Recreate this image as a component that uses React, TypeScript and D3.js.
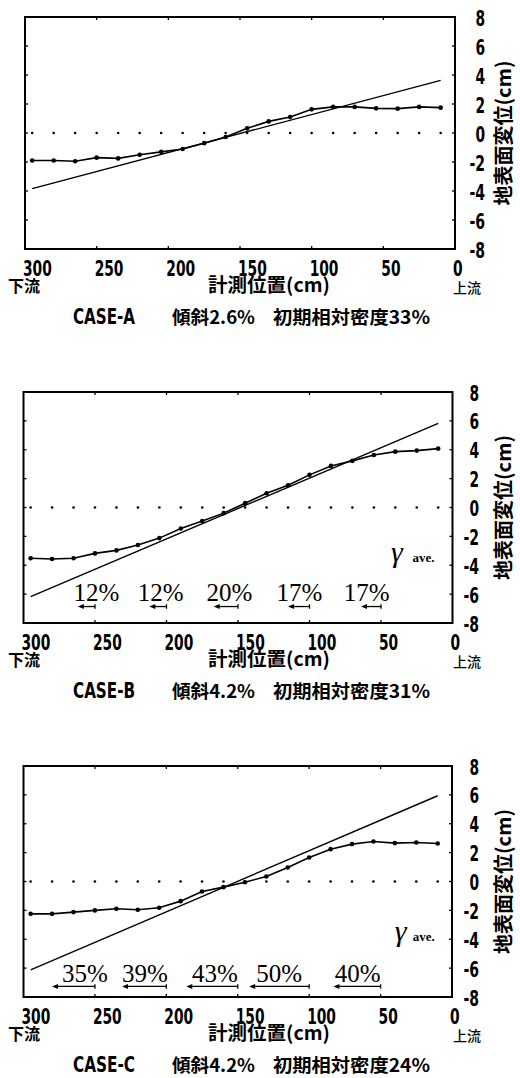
import React from 'react';
import * as d3 from 'd3';

// measuring points (cm from upstream end)
const positions = [295, 280, 265, 250, 235, 220, 205, 190, 175, 160, 145, 130, 115, 100, 85, 70, 55, 40, 25, 10];

// surface displacement (cm)
const caseA = [-1.9, -1.9, -1.95, -1.7, -1.75, -1.5, -1.3, -1.1, -0.7, -0.28, 0.32, 0.8, 1.1, 1.63, 1.8, 1.8, 1.7, 1.68, 1.8, 1.75];
const caseB = [-3.52, -3.57, -3.52, -3.18, -2.97, -2.6, -2.12, -1.45, -0.94, -0.39, 0.3, 0.99, 1.54, 2.26, 2.88, 3.23, 3.64, 3.87, 3.94, 4.08];
const caseC = [-2.24, -2.24, -2.12, -2.0, -1.89, -1.96, -1.82, -1.36, -0.69, -0.39, -0.05, 0.35, 0.97, 1.66, 2.24, 2.59, 2.77, 2.66, 2.7, 2.63];

// fitted straight line, value at both ends
const fitEnds = [295, 10];
const fitA = [-3.84, 3.63];
const fitB = [-6.18, 5.83];
const fitC = [-6.12, 5.94];

const xTicks = [300, 250, 200, 150, 100, 50, 0];
const yTicks = [8, 6, 4, 2, 0, -2, -4, -6, -8];

// relative density ratio annotations
const ratioB = ['12%', '12%', '20%', '17%', '17%'];
const ratioBSpans = [[262, 250], [212, 200], [167, 150], [115, 100], [64, 50]];
const ratioBLabelX = [249, 204, 156, 107, 60];
const ratioC = ['35%', '39%', '43%', '50%', '40%'];
const ratioCSpans = [[280, 250], [231, 200], [186, 150], [142, 100], [83, 50]];
const ratioCLabelX = [257, 215, 166, 121, 66];

const captions = [
  ['CASE-A', '傾斜2.6%', '初期相対密度33%'],
  ['CASE-B', '傾斜4.2%', '初期相対密度31%'],
  ['CASE-C', '傾斜4.2%', '初期相対密度24%'],
];

const numFont = "'DejaVu Sans Condensed', 'DejaVu Sans', sans-serif";
const jpFont = "'Noto Sans CJK JP', sans-serif";
const serif = "'Liberation Serif', 'DejaVu Serif', serif";

// width of a condensed plotter-style number
const numWidth = (s: string) => s.split('').reduce((w, c) => w + (c === '-' ? 6 : 9.6), 0);

type Cfg = { left: number; right: number; top: number; bottom: number; yLabRight: number };

const Panel = (props: {
  cfg: Cfg; values: number[]; fit: number[]; caption: string[];
  ratios?: string[]; spans?: number[][]; labelX?: number[];
  labelY?: number; arrowY?: number; gamma?: { x: number; ax: number; y: number };
}) => {
  const { cfg, values, fit, caption, ratios, spans, labelX, labelY, arrowY, gamma } = props;
  const x = d3.scaleLinear().domain([300, 0]).range([cfg.left, cfg.right]);
  const y = d3.scaleLinear().domain([-8, 8]).range([cfg.bottom, cfg.top]);
  const line = d3.line<number>().x((d, i) => x(positions[i])).y(d => y(d));
  const fitLine = d3.line<number>().x((d, i) => x(fitEnds[i])).y(d => y(d));
  const midY = (cfg.top + cfg.bottom) / 2;

  return (
    <g>
      {/* frame */}
      <rect x={cfg.left} y={cfg.top} width={cfg.right - cfg.left} height={cfg.bottom - cfg.top}
        fill="none" stroke="#000" strokeWidth={2} />
      {xTicks.slice(1, -1).map(t => (
        <g key={'xt' + t}>
          <line x1={x(t)} x2={x(t)} y1={cfg.top} y2={cfg.top + 3} stroke="#000" strokeWidth={1.3} />
          <line x1={x(t)} x2={x(t)} y1={cfg.bottom} y2={cfg.bottom - 3} stroke="#000" strokeWidth={1.3} />
        </g>
      ))}
      {yTicks.slice(1, -1).map(t => (
        <g key={'yt' + t}>
          <line x1={cfg.left} x2={cfg.left + 3} y1={y(t)} y2={y(t)} stroke="#000" strokeWidth={1.3} />
          <line x1={cfg.right} x2={cfg.right - 3} y1={y(t)} y2={y(t)} stroke="#000" strokeWidth={1.3} />
        </g>
      ))}
      {/* tick labels */}
      {xTicks.map(t => (
        <text key={'xl' + t} x={x(t) - 2} y={cfg.bottom + 27} fontFamily={numFont} fontWeight="bold"
          fontSize={22} textLength={numWidth(String(t))} lengthAdjust="spacingAndGlyphs">{t}</text>
      ))}
      {yTicks.map(t => (
        <text key={'yl' + t} x={cfg.yLabRight - numWidth(String(t))} y={y(t) + 1} dominantBaseline="central"
          fontFamily={numFont} fontWeight="bold" fontSize={22} textLength={numWidth(String(t))}
          lengthAdjust="spacingAndGlyphs">{t}</text>
      ))}
      <text x={8} y={cfg.bottom + 43} fontFamily={jpFont} fontWeight="bold" fontSize={16}>下流</text>
      <text x={453} y={cfg.bottom + 44} fontFamily={jpFont} fontWeight={500} fontSize={14}>上流</text>
      <text x={208} y={cfg.bottom + 43} fontFamily={jpFont} fontWeight="bold"
        fontSize={19} textLength={122} lengthAdjust="spacingAndGlyphs">計測位置(cm)</text>
      <text transform={`translate(502.5,${midY}) rotate(-90)`} textAnchor="middle" dominantBaseline="central"
        fontFamily={jpFont} fontWeight="bold" fontSize={20}>地表面変位(cm)</text>
      {/* caption */}
      <text x={73} y={cfg.bottom + 74.5} fontFamily={numFont} fontWeight="bold" fontSize={21}
        textLength={62} lengthAdjust="spacingAndGlyphs">{caption[0]}</text>
      <text x={172} y={cfg.bottom + 74.5} fontFamily={jpFont} fontWeight="bold" fontSize={18}
        textLength={83} lengthAdjust="spacingAndGlyphs">{caption[1]}</text>
      <text x={273} y={cfg.bottom + 74.5} fontFamily={jpFont} fontWeight="bold" fontSize={18}
        textLength={157} lengthAdjust="spacingAndGlyphs">{caption[2]}</text>

      {/* zero reference dots */}
      {positions.map(p => (
        <circle key={'z' + p} cx={x(p)} cy={y(0)} r={1.3} fill="#000" />
      ))}
      {/* fitted line */}
      <path d={fitLine(fit) || ''} fill="none" stroke="#000" strokeWidth={1.4} />
      {/* measured surface */}
      <path d={line(values) || ''} fill="none" stroke="#000" strokeWidth={1.6} />
      {values.map((v, i) => (
        <circle key={'p' + i} cx={x(positions[i])} cy={y(v)} r={2.3} fill="#000" />
      ))}

      {/* ratio annotations */}
      {ratios && spans && labelX && ratios.map((r, i) => {
        const ay = y(arrowY as number);
        const x0 = x(spans[i][0]);
        const x1 = x(spans[i][1]);
        return (
          <g key={'r' + i}>
            <text x={x(labelX[i])} y={y(labelY as number)} textAnchor="middle" fontFamily={serif}
              fontSize={25}>{r}</text>
            <line x1={x0 + 3} x2={x1} y1={ay} y2={ay} stroke="#000" strokeWidth={1.3} />
            <path d={`M${x0},${ay}L${x0 + 6},${ay - 2.5}L${x0 + 6},${ay + 2.5}Z`} fill="#000" />
            <line x1={x1} x2={x1} y1={ay - 2.2} y2={ay + 2.2} stroke="#000" strokeWidth={1.3} />
          </g>
        );
      })}
      {gamma && (
        <g>
          <text x={x(gamma.x)} y={y(gamma.y)} fontFamily={serif} fontStyle="italic" fontSize={30}>γ</text>
          <text x={x(gamma.ax)} y={y(gamma.y)} fontFamily={serif} fontWeight="bold" fontSize={13}>ave.</text>
        </g>
      )}
    </g>
  );
};

export default function App() {
  return (
    <svg width={520} height={1078} style={{ position: 'absolute', left: 0, top: 0, background: '#fff' }}>
      <Panel cfg={{ left: 25, right: 455, top: 17, bottom: 249, yLabRight: 485 }} values={caseA} fit={fitA}
        caption={captions[0]} />
      <Panel cfg={{ left: 23.5, right: 452.5, top: 392, bottom: 623, yLabRight: 479 }} values={caseB} fit={fitB}
        caption={captions[1]} ratios={ratioB} spans={ratioBSpans} labelX={ratioBLabelX}
        labelY={-6.46} arrowY={-6.86} gamma={{ x: 43, ax: 28, y: -3.77 }} />
      <Panel cfg={{ left: 23.5, right: 452, top: 766, bottom: 997, yLabRight: 479 }} values={caseC} fit={fitC}
        caption={captions[2]} ratios={ratioC} spans={ratioCSpans} labelX={ratioCLabelX}
        labelY={-6.95} arrowY={-7.27} gamma={{ x: 40, ax: 27.5, y: -4.11 }} />
    </svg>
  );
}
